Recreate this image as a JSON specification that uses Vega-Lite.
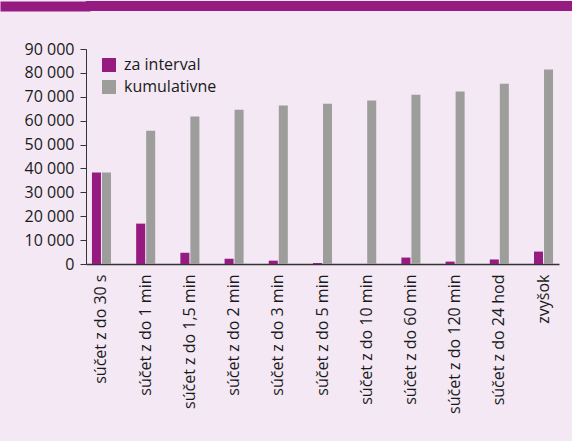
{
  "$schema": "https://vega.github.io/schema/vega-lite/v6.json",
  "background": "#f3e8f4",
  "padding": {"left": -5, "top": 0, "right": 0, "bottom": 50},
  "spacing": 30,
  "resolve": {"scale": {"color": "independent"}, "legend": {"color": "independent"}},
  "config": {
    "font": "Open Sans",
    "view": {"stroke": null},
    "axis": {"labelColor": "#1a1a1a", "domainColor": "#333333", "tickColor": "#333333", "labelFont": "Open Sans"},
    "legend": {"labelFont": "Open Sans", "labelColor": "#1a1a1a"}
  },
  "vconcat": [
    {
      "width": 490,
      "height": 10,
      "view": {"fill": "#951b81", "stroke": null},
      "data": {"values": [{"label": "", "v": 0.5}]},
      "mark": {"type": "text"},
      "encoding": {
        "text": {"field": "label"},
        "y": {
          "field": "v",
          "type": "quantitative",
          "scale": {"domain": [0, 1]},
          "axis": {
            "title": null,
            "values": [0.5],
            "labels": false,
            "domain": false,
            "grid": false,
            "offset": -4,
            "tickSize": 90,
            "tickWidth": 10,
            "tickColor": "#951b81",
            "minExtent": 86,
            "maxExtent": 86
          }
        }
      }
    },
    {
      "width": 473,
      "height": 215,
      "data": {
        "values": [
          {"cat": "súčet z do 30 s", "series": "za interval", "value": 38300},
          {"cat": "súčet z do 30 s", "series": "kumulativne", "value": 38300},
          {"cat": "súčet z do 1 min", "series": "za interval", "value": 16900},
          {"cat": "súčet z do 1 min", "series": "kumulativne", "value": 55800},
          {"cat": "súčet z do 1,5 min", "series": "za interval", "value": 4700},
          {"cat": "súčet z do 1,5 min", "series": "kumulativne", "value": 61700},
          {"cat": "súčet z do 2 min", "series": "za interval", "value": 2200},
          {"cat": "súčet z do 2 min", "series": "kumulativne", "value": 64600},
          {"cat": "súčet z do 3 min", "series": "za interval", "value": 1400},
          {"cat": "súčet z do 3 min", "series": "kumulativne", "value": 66300},
          {"cat": "súčet z do 5 min", "series": "za interval", "value": 400},
          {"cat": "súčet z do 5 min", "series": "kumulativne", "value": 67100},
          {"cat": "súčet z do 10 min", "series": "za interval", "value": 0},
          {"cat": "súčet z do 10 min", "series": "kumulativne", "value": 68400},
          {"cat": "súčet z do 60 min", "series": "za interval", "value": 2700},
          {"cat": "súčet z do 60 min", "series": "kumulativne", "value": 70900},
          {"cat": "súčet z do 120 min", "series": "za interval", "value": 1000},
          {"cat": "súčet z do 120 min", "series": "kumulativne", "value": 72200},
          {"cat": "súčet z do 24 hod", "series": "za interval", "value": 1900},
          {"cat": "súčet z do 24 hod", "series": "kumulativne", "value": 75500},
          {"cat": "zvyšok", "series": "za interval", "value": 5200},
          {"cat": "zvyšok", "series": "kumulativne", "value": 81400}
        ]
      },
      "mark": {"type": "bar"},
      "encoding": {
        "x": {
          "field": "cat",
          "type": "nominal",
          "sort": null,
          "scale": {"paddingInner": 0.3, "paddingOuter": 0},
          "axis": {"title": null, "labelAngle": -90, "ticks": false, "labelPadding": 10, "labelFontSize": 16, "domainWidth": 1.5}
        },
        "xOffset": {
          "field": "series",
          "type": "nominal",
          "sort": ["za interval", "kumulativne"],
          "scale": {"paddingInner": 0.1, "paddingOuter": 0.595}
        },
        "y": {
          "field": "value",
          "type": "quantitative",
          "scale": {"domain": [0, 90000], "nice": false},
          "axis": {
            "title": null,
            "grid": false,
            "values": [0, 10000, 20000, 30000, 40000, 50000, 60000, 70000, 80000, 90000],
            "labelExpr": "replace(format(datum.value, ','), ',', ' ')",
            "tickSize": 6,
            "labelPadding": 6,
            "labelFontSize": 16,
            "minExtent": 86
          }
        },
        "color": {
          "field": "series",
          "type": "nominal",
          "sort": ["za interval", "kumulativne"],
          "scale": {"domain": ["za interval", "kumulativne"], "range": ["#951b81", "#9d9d9c"]},
          "legend": {
            "title": null,
            "orient": "none",
            "legendX": 15,
            "legendY": 8,
            "symbolType": "square",
            "symbolSize": 196,
            "symbolStrokeWidth": 0,
            "labelFontSize": 16,
            "labelOffset": 7,
            "rowPadding": 6,
            "padding": 0
          }
        }
      }
    }
  ]
}
